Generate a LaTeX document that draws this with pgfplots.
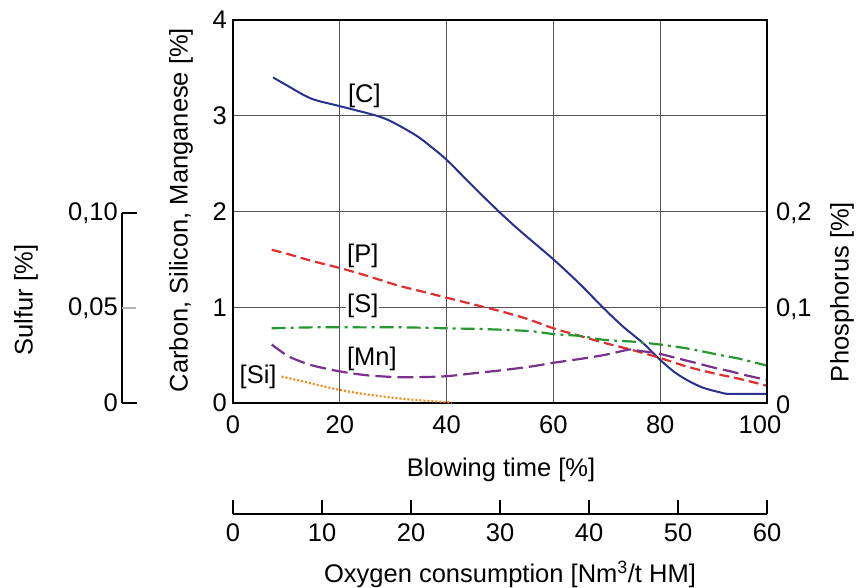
\documentclass[border=0pt]{standalone}
\usepackage{fontspec}
\setmainfont{Liberation Sans}
\usepackage{pgfplots}
\pgfplotsset{compat=1.18}
\definecolor{cC}{RGB}{40,50,140}
\definecolor{cP}{RGB}{225,45,45}
\definecolor{cS}{RGB}{40,150,50}
\definecolor{cMn}{RGB}{120,50,140}
\definecolor{cSi}{RGB}{245,140,30}
\definecolor{gridc}{RGB}{85,85,85}
\newcommand\ff{\fontsize{25.5}{30}\selectfont}
\begin{document}
\ff
\begin{tikzpicture}[x=1pt,y=1pt]
\path[use as bounding box] (0,0) rectangle (858,588);
% main axis
\begin{axis}[at={(233pt,185pt)}, anchor=south west, scale only axis,
  width=534pt, height=383pt,
  xmin=0, xmax=100, ymin=0, ymax=4,
  xtick={0,20,...,80}, ytick={0,1,2,3,4},
  extra x ticks={100},
  extra x tick style={xticklabel style={xshift=-7pt}},
  grid=major, major grid style={gridc, line width=0.9pt},
  major tick length=0pt,
  axis line style={line width=1.8pt},
  /pgf/number format/assume math mode=true,
  xticklabel style={anchor=north, inner sep=0pt, yshift=-12pt, font=\ff},
  yticklabel style={anchor=east, inner sep=0pt, xshift=-6pt, font=\ff},
  clip=false]
\addplot[cC, line width=2pt, smooth] coordinates {
(7.5,3.40) (10,3.32) (14.6,3.18) (20,3.10) (26.9,3.00) (30,2.93) (34.4,2.79)
(37,2.68) (40,2.54) (45,2.26) (49.4,2.02) (53.5,1.81) (60,1.50) (65,1.24)
(69.4,0.99) (73,0.80) (76.9,0.62) (80,0.45) (82.5,0.33) (85,0.24) (88,0.16)
(91.3,0.11) (93,0.095) (100,0.095)};
\addplot[cP, line width=2.2pt, smooth, dash pattern=on 10pt off 5pt] coordinates {
(7.25,1.60) (10,1.56) (15,1.48) (20,1.41) (25,1.33) (30.7,1.23) (35,1.17)
(40,1.10) (45,1.03) (50,0.96) (55,0.88) (60,0.78) (65,0.70) (69.4,0.63)
(75,0.55) (80,0.47) (85,0.38) (90,0.31) (95,0.25) (100,0.18)};
\addplot[cS, line width=2.2pt, smooth, dash pattern=on 14pt off 5pt on 3pt off 5pt] coordinates {
(7.25,0.78) (15,0.79) (24.4,0.79) (32,0.79) (40,0.78) (48,0.77) (55.7,0.75)
(60,0.72) (65,0.70) (69.4,0.66) (75,0.64) (80,0.61) (85,0.57) (91.3,0.50)
(95,0.46) (100,0.39)};
\addplot[cMn, line width=2.2pt, smooth, dash pattern=on 16pt off 6pt] coordinates {
(7.25,0.61) (10,0.50) (11.9,0.45) (15,0.39) (20,0.33) (25,0.29) (30.7,0.27)
(35,0.27) (40,0.28) (45,0.31) (50,0.34) (55.7,0.38) (60,0.42) (65,0.46)
(69.4,0.50) (74.4,0.56) (76,0.545) (79.4,0.52) (83,0.47) (86.9,0.415)
(90,0.37) (93.2,0.33) (96,0.29) (100,0.24)};
\addplot[cSi, line width=2.2pt, smooth, dash pattern=on 2pt off 2pt] coordinates {
(9.1,0.275) (12,0.24) (15,0.20) (20,0.136) (25,0.09) (30.7,0.05) (35,0.028)
(39.4,0.012) (41,0.005)};
\node[font=\ff] at (axis cs:24.6,3.21) {[C]};
\node[font=\ff] at (axis cs:24.3,1.54) {[P]};
\node[font=\ff, fill=white, inner sep=1pt] at (axis cs:24.3,1.01) {[S]};
\node[font=\ff] at (axis cs:26.0,0.46) {[Mn]};
\node[font=\ff] at (axis cs:4.7,0.275) {[Si]};
\end{axis}
% phosphorus axis (right)
\begin{axis}[at={(233pt,185pt)}, anchor=south west, scale only axis,
  width=534pt, height=383pt,
  xmin=0, xmax=100, ymin=0, ymax=0.4,
  axis x line=none, axis y line*=right,
  ytick={0,0.1,0.2}, yticklabels={0,{0,1},{0,2}},
  major tick length=0pt,
  axis line style={line width=1.8pt},
  yticklabel style={anchor=west, inner sep=0pt, xshift=9pt, yshift=-2pt, font=\ff}]
\addplot[draw=none] coordinates {(0,0)};
\end{axis}
% sulfur axis (left)
\begin{axis}[at={(122pt,185pt)}, anchor=south west, scale only axis,
  width=20pt, height=190pt,
  xmin=0, xmax=1, ymin=0, ymax=0.1,
  axis x line=none, axis y line*=left,
  ytick={0,0.05,0.1}, yticklabels={0,0{,}05,0{,}10},
  major tick length=0pt,
  axis line style={line width=1.8pt},
  clip=false,
  yticklabel style={anchor=east, inner sep=0pt, xshift=-4pt, font=\ff}]
\addplot[draw=none] coordinates {(0,0)};
\draw[black, line width=1.8pt] (axis cs:0,0) -- ++(15pt,0pt);
\draw[black, line width=1.8pt] (axis cs:0,0.1) -- ++(15pt,0pt);
\draw[gray!60, line width=1.2pt] (axis cs:0,0.05) -- ++(14pt,0pt);
\end{axis}
% oxygen axis (bottom)
\begin{axis}[at={(233pt,74pt)}, anchor=south west, scale only axis,
  width=534pt, height=10pt,
  xmin=0, xmax=60, ymin=0, ymax=1,
  axis y line=none, axis x line*=bottom,
  xtick={0,60}, extra x ticks={10,20,30,40,50},
  extra x tick style={tick style={gray, line width=1pt}},
  tick align=inside, major tick length=14pt,
  major tick style={black, line width=1.8pt},
  axis line style={line width=1.8pt},
  /pgf/number format/assume math mode=true,
  xticklabel style={anchor=north, inner sep=0pt, yshift=-9pt, font=\ff}]
\addplot[draw=none] coordinates {(0,0)};
\end{axis}
\node[rotate=90, font=\ff] at (181,378) {Carbon, Silicon, Manganese [\%]};
\node[rotate=90, font=\ff] at (26,288) {Sulfur [\%]};
\node[rotate=90, font=\ff] at (842,296) {Phosphorus [\%]};
\node[font=\ff] at (501,118) {Blowing time [\%]};
\node[font=\ff] at (510,14) {Oxygen consumption [Nm\textsuperscript{3}/t HM]};
\end{tikzpicture}
\end{document}
